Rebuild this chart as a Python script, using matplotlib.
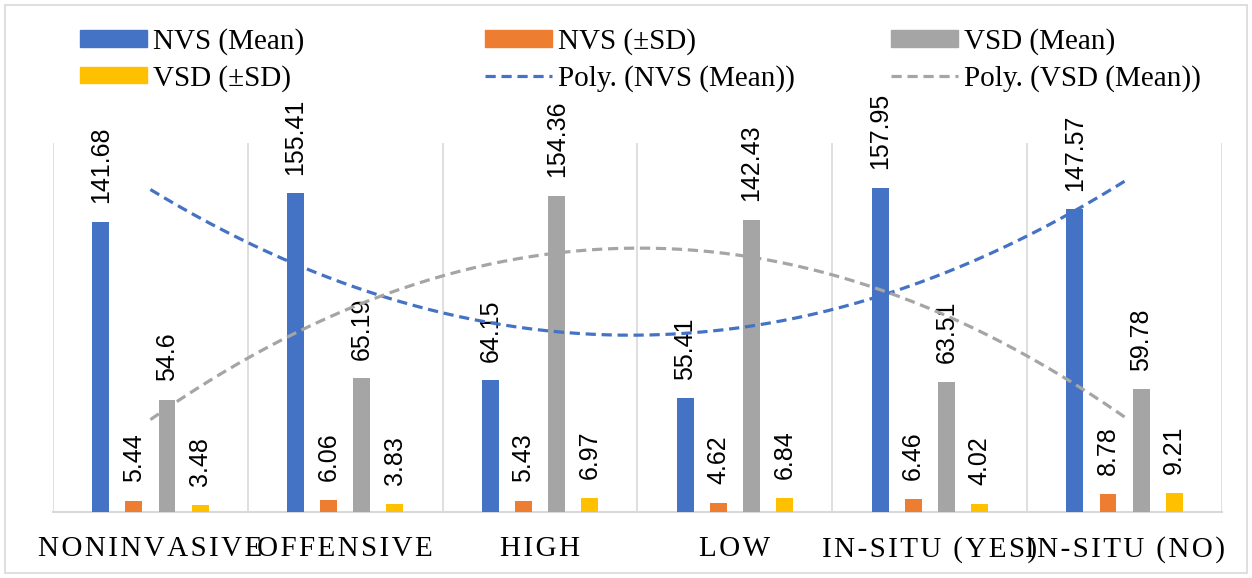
import numpy as np
import matplotlib
matplotlib.use("Agg")
import matplotlib.pyplot as plt
from matplotlib.patches import Rectangle, Patch
from matplotlib.lines import Line2D

# data
categories = ["NONINVASIVE", "OFFENSIVE", "HIGH", "LOW", "IN-SITU (YES)", "IN-SITU (NO)"]
nvs_mean = [141.68, 155.41, 64.15, 55.41, 157.95, 147.57]
nvs_sd = [5.44, 6.06, 5.43, 4.62, 6.46, 8.78]
vsd_mean = [54.6, 65.19, 154.36, 142.43, 63.51, 59.78]
vsd_sd = [3.48, 3.83, 6.97, 6.84, 4.02, 9.21]

series = [("NVS (Mean)", nvs_mean, "#4472C4"),
          ("NVS (\u00b1SD)", nvs_sd, "#ED7D31"),
          ("VSD (Mean)", vsd_mean, "#A5A5A5"),
          ("VSD (\u00b1SD)", vsd_sd, "#FFC000")]

W, H = 1252, 578
fig = plt.figure(figsize=(W / 100, H / 100), dpi=100)
ax = fig.add_axes([53 / W, 66 / H, (1222 - 53) / W, (512 - 143) / H])

serif = ["Liberation Serif", "DejaVu Serif"]
sans = ["Liberation Sans", "DejaVu Sans"]

x = np.arange(len(categories))
bw = 0.087
step = 0.17
for k, (name, vals, col) in enumerate(series):
    pos = x + (k - 1.5) * step
    bars = ax.bar(pos, vals, width=bw, color=col, zorder=3)
    for p, v in zip(pos, vals):
        ax.annotate(f"{v:g}", (p, v), xytext=(0, 13.5), textcoords="offset points",
                    rotation=90, ha="center", va="bottom", fontsize=18,
                    family=sans, color="black", zorder=4)

# polynomial (order 2) trendlines like Excel
dash = (0, (3.2, 1.8))
xs = np.linspace(1, 6, 200)
for vals, col in [(nvs_mean, "#4472C4"), (vsd_mean, "#A5A5A5")]:
    c = np.polyfit(np.arange(1, 7), vals, 2)
    ax.plot(xs - 1, np.polyval(c, xs), color=col, lw=2.3,
            linestyle=dash, zorder=5)

ax.set_xlim(-0.5, 5.5)
ax.set_ylim(0, 180)
for b in np.arange(-0.5, 6, 1):
    ax.axvline(b, color="#D9D9D9", lw=1.2, zorder=1)
for s in ["top", "right", "left"]:
    ax.spines[s].set_visible(False)
ax.spines["bottom"].set_color("#D9D9D9")
ax.spines["bottom"].set_linewidth(1.5)
ax.set_yticks([])
ax.set_xticks(x)
ax.set_xticklabels(["\u200a".join(c) for c in categories], family=serif, fontsize=21)
ax.tick_params(axis="x", length=0, pad=17)
ax.patch.set_alpha(0)

# legend, three columns
fs = 21
cols = [
    [(Patch(color="#4472C4"), "NVS (Mean)"), (Patch(color="#FFC000"), "VSD (\u00b1SD)")],
    [(Patch(color="#ED7D31"), "NVS (\u00b1SD)"),
     (Line2D([], [], color="#4472C4", lw=2.3, linestyle=dash), "Poly. (NVS (Mean))")],
    [(Patch(color="#A5A5A5"), "VSD (Mean)"),
     (Line2D([], [], color="#A5A5A5", lw=2.3, linestyle=dash), "Poly. (VSD (Mean))")],
]
for xl, entries in zip([80, 485, 891], cols):
    leg = fig.legend([e[0] for e in entries], [e[1] for e in entries],
                     loc="upper left", bbox_to_anchor=(xl / W, 1 - 28 / H),
                     frameon=False, prop={"family": serif, "size": fs},
                     handlelength=2.3, handleheight=0.5, handletextpad=0.2,
                     labelspacing=0.33, borderpad=0, borderaxespad=0)

fig.patches.append(Rectangle((5 / W, 5 / H), (W - 10) / W, (H - 10) / H,
                             transform=fig.transFigure, fill=False,
                             edgecolor="#D9D9D9", lw=1.2))

fig.savefig("out.png", dpi=100)
